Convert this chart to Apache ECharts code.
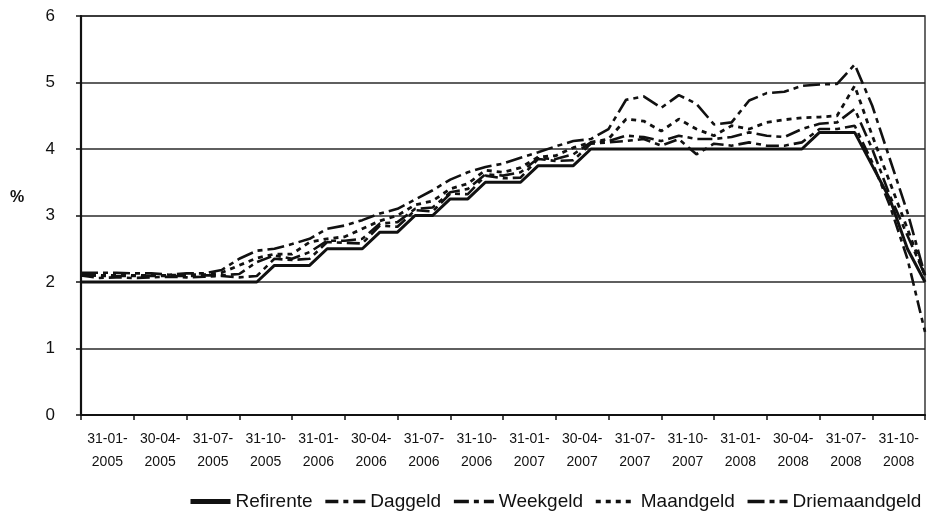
<!DOCTYPE html>
<html>
<head>
<meta charset="utf-8">
<script src="https://cdn.jsdelivr.net/npm/echarts@6/dist/echarts.min.js"></script>
<style>html,body{margin:0;padding:0;background:#fff}#c{width:930px;height:515px}</style>
</head>
<body>
<div id="c"></div>
<script>
var months = ['2005-01','2005-02','2005-03','2005-04','2005-05','2005-06','2005-07','2005-08','2005-09','2005-10','2005-11','2005-12',
'2006-01','2006-02','2006-03','2006-04','2006-05','2006-06','2006-07','2006-08','2006-09','2006-10','2006-11','2006-12',
'2007-01','2007-02','2007-03','2007-04','2007-05','2007-06','2007-07','2007-08','2007-09','2007-10','2007-11','2007-12',
'2008-01','2008-02','2008-03','2008-04','2008-05','2008-06','2008-07','2008-08','2008-09','2008-10','2008-11','2008-12',
'2009-01'];
var tickLabels = ['31-01-2005','30-04-2005','31-07-2005','31-10-2005','31-01-2006','30-04-2006','31-07-2006','31-10-2006',
'31-01-2007','30-04-2007','31-07-2007','31-10-2007','31-01-2008','30-04-2008','31-07-2008','31-10-2008'];
var refirente = [2.0,2.0,2.0,2.0,2.0,2.0,2.0,2.0,2.0,2.0,2.0,2.25,2.25,2.25,2.5,2.5,2.5,2.75,2.75,3.0,3.0,3.25,3.25,3.5,3.5,3.5,3.75,3.75,3.75,
4.0,4.0,4.0,4.0,4.0,4.0,4.0,4.0,4.0,4.0,4.0,4.0,4.0,4.25,4.25,4.25,3.75,3.25,2.5,2.0];
var daggeld = [2.10,2.06,2.07,2.06,2.07,2.08,2.07,2.08,2.09,2.07,2.09,2.35,2.33,2.35,2.60,2.59,2.58,2.85,2.83,3.08,3.06,3.33,3.32,3.60,3.56,3.57,3.85,3.82,3.83,
4.08,4.10,4.12,4.15,4.05,4.15,3.92,4.08,4.05,4.10,4.05,4.05,4.10,4.30,4.30,4.35,3.80,3.15,2.35,1.25];
var weekgeld = [2.12,2.09,2.09,2.09,2.09,2.09,2.09,2.10,2.10,2.12,2.30,2.40,2.35,2.45,2.62,2.62,2.65,2.88,2.90,3.10,3.12,3.35,3.40,3.62,3.60,3.65,3.86,3.85,3.92,
4.10,4.12,4.20,4.18,4.12,4.20,4.15,4.15,4.18,4.25,4.20,4.18,4.30,4.38,4.40,4.60,4.00,3.30,2.70,2.10];
var maandgeld = [2.11,2.10,2.10,2.10,2.10,2.10,2.11,2.11,2.14,2.25,2.36,2.42,2.42,2.60,2.65,2.68,2.80,2.92,3.00,3.16,3.22,3.40,3.48,3.68,3.65,3.72,3.88,3.90,4.02,
4.10,4.15,4.45,4.42,4.27,4.45,4.30,4.20,4.35,4.30,4.40,4.44,4.47,4.48,4.50,4.95,4.20,3.50,2.80,2.10];
var driemaandgeld = [2.14,2.14,2.14,2.13,2.13,2.11,2.13,2.13,2.18,2.35,2.47,2.50,2.57,2.65,2.80,2.85,2.93,3.03,3.10,3.24,3.38,3.54,3.65,3.73,3.78,
3.87,3.95,4.04,4.12,4.15,4.30,4.74,4.79,4.62,4.81,4.68,4.37,4.40,4.73,4.84,4.86,4.95,4.97,4.98,5.27,4.65,3.85,3.05,2.10];

var seriesNames = ['Refirente','Daggeld','Weekgeld','Maandgeld','Driemaandgeld'];
var seriesData = [refirente, daggeld, weekgeld, maandgeld, driemaandgeld];
var dashes = ['solid', [13,5,5,5], [15,5,5,5], [5,5], [17,5,5,5]];
var widths = [3, 2.6, 2.6, 2.8, 2.6];

// half-step label axis: label k centred between tick 3k and 3k+3
var halfSteps = [];
for (var i = 0; i < months.length * 2 - 1; i++) halfSteps.push('');
tickLabels.forEach(function (t, k) { halfSteps[6 * k + 3] = t; });

var FONT = "'Liberation Sans',Arial,sans-serif";
var chart = echarts.init(document.getElementById('c'), null, {renderer: 'canvas'});
chart.setOption({
  animation: false,
  backgroundColor: '#fff',
  title: {text: '%', left: 5, top: 185, textStyle: {fontSize: 16, fontWeight: 'bold', color: '#111', fontFamily: FONT}},
  grid: {left: 81, right: 5, top: 16, bottom: 100, show: true, borderColor: '#444', borderWidth: 1.6},
  legend: {
    left: 183, top: 487, width: 745, itemWidth: 40, itemHeight: 16, itemGap: 11,
    textStyle: {fontSize: 19, color: '#111', fontFamily: FONT},
    data: seriesNames.map(function (n, i) {
      return {name: n, itemStyle: {opacity: 0}, lineStyle: i === 0 ? {width: 5} : {width: 3.5}};
    })
  },
  xAxis: [{
    type: 'category', data: months, boundaryGap: false,
    axisLine: {lineStyle: {color: '#111', width: 2}},
    axisTick: {interval: 2, length: 5, lineStyle: {color: '#111', width: 1.5}},
    axisLabel: {show: false},
    splitLine: {show: false}
  }, {
    type: 'category', data: halfSteps, boundaryGap: false, position: 'bottom',
    axisLine: {show: false}, axisTick: {show: false},
    axisLabel: {
      interval: function (idx, val) { return val !== ''; },
      margin: 13, fontSize: 14, lineHeight: 23, color: '#111', fontFamily: FONT,
      formatter: function (v) { return v.slice(0, 6) + '\n' + v.slice(6); }
    }
  }],
  yAxis: {
    type: 'value', min: 0, max: 6, interval: 1,
    axisLine: {show: true, lineStyle: {color: '#111', width: 2.2}},
    axisTick: {show: true, length: 5, lineStyle: {color: '#111', width: 1.5}},
    axisLabel: {fontSize: 17, color: '#111', margin: 26, fontFamily: FONT},
    splitLine: {lineStyle: {color: '#2a2a2a', width: 1.7}}
  },
  series: seriesNames.map(function (n, i) {
    return {
      name: n, type: 'line', xAxisIndex: 0, data: seriesData[i], symbol: 'none',
      z: i === 0 ? 5 : 3,
      lineStyle: {color: '#111', width: widths[i], type: dashes[i]},
      itemStyle: {color: '#111'}
    };
  })
});
</script>
</body>
</html>
